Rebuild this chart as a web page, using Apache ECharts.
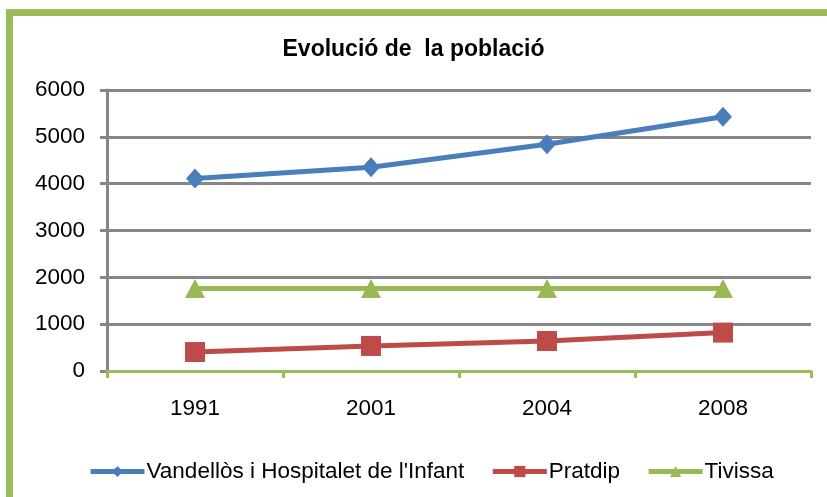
<!DOCTYPE html>
<html>
<head>
<meta charset="utf-8">
<script src="https://cdn.jsdelivr.net/npm/echarts@6/dist/echarts.min.js"></script>
<style>
html,body{margin:0;padding:0;background:#fff;}
#c{width:827px;height:497px;}
</style>
</head>
<body>
<div id="c"></div>
<script>
const titleText = "Evolució de  la població";
const categories = ["1991", "2001", "2004", "2008"];
const seriesNames = ["Vandellòs i Hospitalet de l'Infant", "Pratdip", "Tivissa"];
const vandellos = [4110, 4350, 4840, 5430];
const pratdip = [405, 535, 640, 820];
const tivissa = [1760, 1760, 1760, 1760];
const yTicks = [0, 1000, 2000, 3000, 4000, 5000, 6000];

const FONT = "'Liberation Sans', Arial, sans-serif";
const chart = echarts.init(document.getElementById('c'), null, {renderer: 'canvas'});
const green = '#9BBB59';
chart.setOption({
  animation: false,
  backgroundColor: '#fff',
  textStyle: {fontFamily: FONT},
  graphic: [
    {type: 'rect', shape: {x: 6, y: 9, width: 900, height: 7}, style: {fill: green}, z: 100},
    {type: 'rect', shape: {x: 6, y: 9, width: 7, height: 600}, style: {fill: green}, z: 100}
  ],
  title: {
    text: titleText,
    left: 'center',
    top: 33,
    textStyle: {fontFamily: FONT, fontSize: 23, fontWeight: 'bold', color: '#000'}
  },
  legend: {
    left: 83,
    top: 455,
    itemWidth: 54,
    itemHeight: 14,
    itemGap: 26,
    lineStyle: {width: 5},
    textStyle: {fontFamily: FONT, fontSize: 22.5, color: '#000', padding: [0, 0, 0, -3]},
    data: seriesNames
  },
  grid: {left: 107, right: 16, top: 90, bottom: 126, containLabel: false},
  xAxis: {
    type: 'category',
    data: categories,
    boundaryGap: true,
    axisLine: {show: true, lineStyle: {color: green, width: 3}},
    axisTick: {show: true, length: 7, lineStyle: {color: green, width: 3}},
    axisLabel: {fontFamily: FONT, fontSize: 22.5, color: '#000', margin: 26},
    splitLine: {show: false},
    z: 5
  },
  yAxis: {
    type: 'value',
    min: yTicks[0],
    max: yTicks[yTicks.length - 1],
    interval: 1000,
    axisLine: {show: true, lineStyle: {color: '#868686', width: 3}},
    axisTick: {show: true, length: 7, lineStyle: {color: '#868686', width: 3}},
    axisLabel: {fontFamily: FONT, fontSize: 22.5, color: '#000', margin: 22, formatter: function (v) { return String(v); }},
    splitLine: {show: true, lineStyle: {color: '#878787', width: 3}}
  },
  series: [
    {
      name: seriesNames[0], type: 'line', data: vandellos,
      symbol: 'diamond', symbolSize: [18, 20],
      lineStyle: {color: '#4A7EBB', width: 5},
      itemStyle: {color: '#4A7EBB'}, z: 3
    },
    {
      name: seriesNames[1], type: 'line', data: pratdip,
      symbol: 'rect', symbolSize: 20,
      lineStyle: {color: '#BE4B48', width: 5},
      itemStyle: {color: '#BE4B48', borderRadius: 2}, z: 3
    },
    {
      name: seriesNames[2], type: 'line', data: tivissa,
      symbol: 'triangle', symbolSize: [20, 19],
      lineStyle: {color: '#98B954', width: 5},
      itemStyle: {color: '#98B954'}, z: 3
    }
  ]
});
</script>
</body>
</html>
